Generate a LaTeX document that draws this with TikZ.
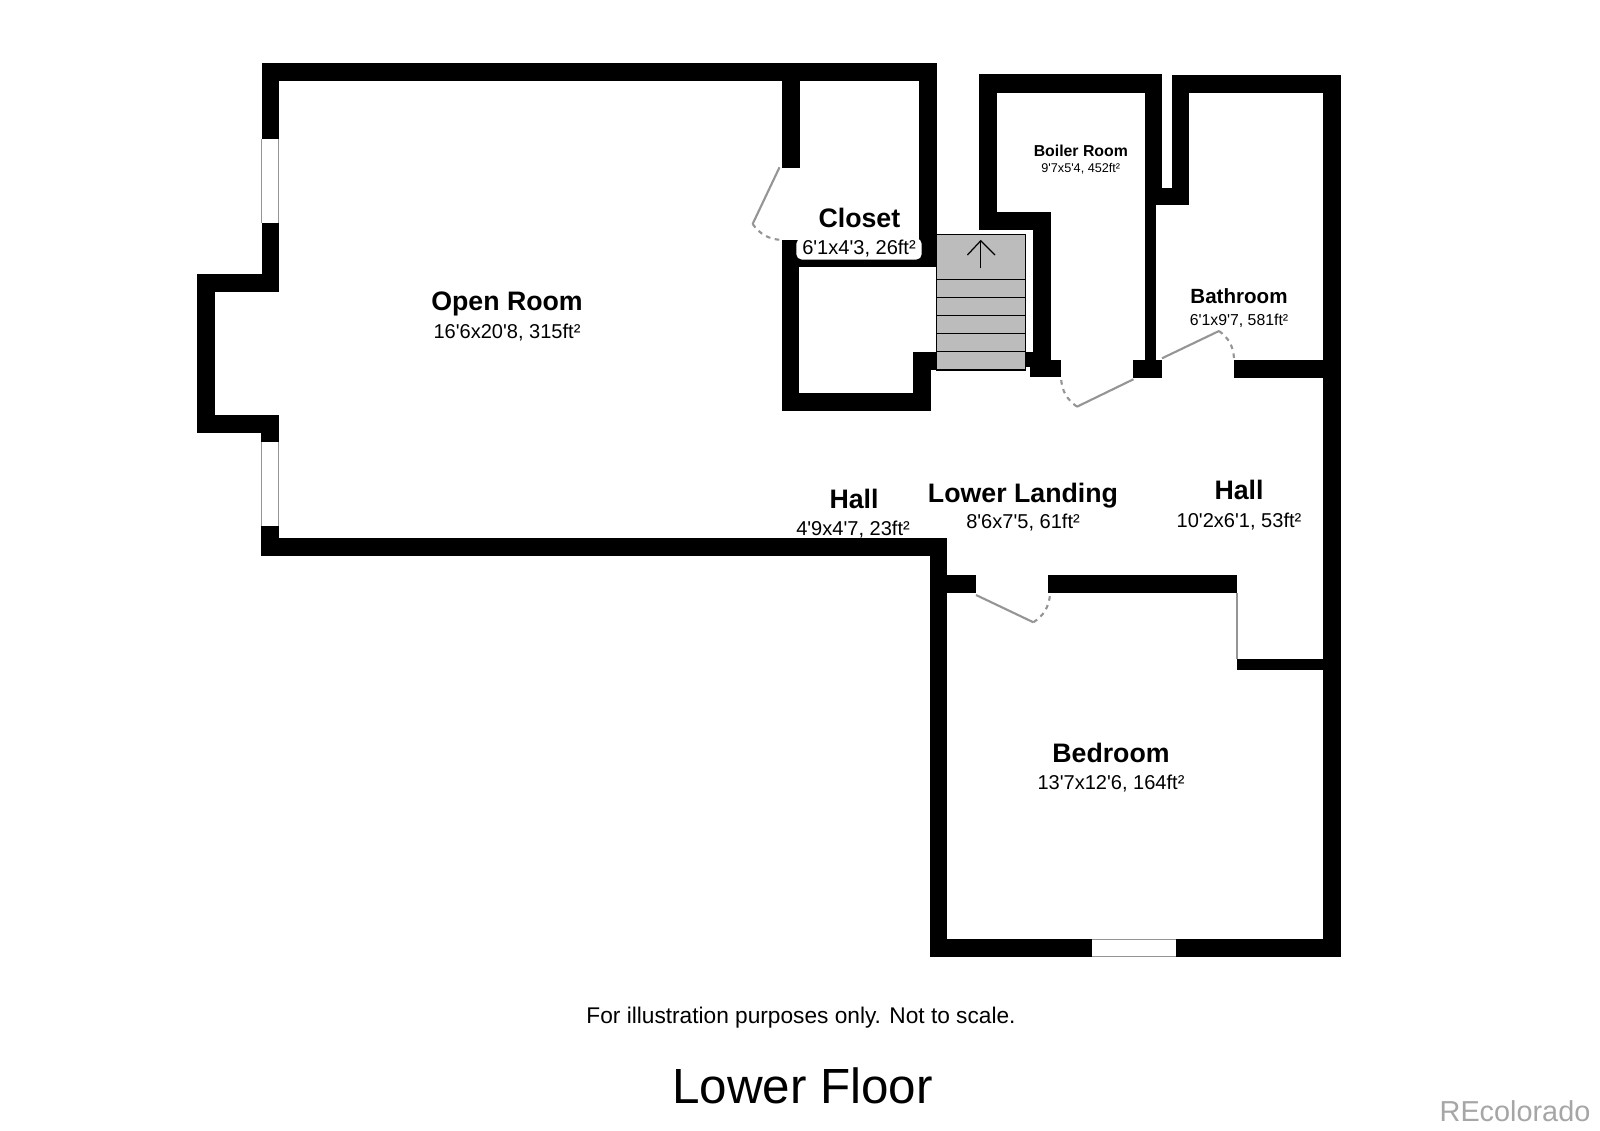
\documentclass[tikz,border=0pt]{standalone}
\usepackage{fontspec}
\setmainfont{Liberation Sans}[Ligatures=TeXOff]
\usetikzlibrary{positioning}
\definecolor{stairgray}{HTML}{BCBCBC}
\definecolor{doorgray}{HTML}{959595}
\tikzset{
  wall/.style={fill=black},
  roomname/.style={anchor=base,font=\bfseries\fontsize{7.6}{9}\selectfont},
  roomsize/.style={anchor=base,font=\fontsize{5.7}{7}\selectfont},
  door/.style={draw=doorgray,line width=0.6pt},
  swing/.style={draw=doorgray,line width=0.6pt,dash pattern=on 1.3pt off 1.3pt},
  pane/.style={draw=doorgray,line width=0.3pt}
}
\begin{document}
\begin{tikzpicture}[x=0.01cm,y=-0.01cm]
                    \tikzstyle{every node}+=[inner sep=0pt]
                    \fill [white] (0,0) rectangle (1600,1131);
                    \useasboundingbox (0,0) rectangle (1600,1131);
                    \fill [wall] (261.5,63.4) rectangle (936.5,81.5);
                    \fill [wall] (261.5,63.4) rectangle (278.7,139.2);
                    \draw [pane] (261.5,139.2) -- (261.5,223);
                    \draw [pane] (278.7,139.2) -- (278.7,223);
                    \fill [wall] (261.5,223) rectangle (278.7,292);
                    \fill [wall] (197,274.2) rectangle (278.7,292);
                    \fill [wall] (197,274.2) rectangle (215,432.6);
                    \fill [wall] (197,415.3) rectangle (278.7,432.6);
                    \fill [wall] (261,415.3) rectangle (278.7,442.2);
                    \draw [pane] (261.5,442.2) -- (261.5,526.2);
                    \draw [pane] (278.7,442.2) -- (278.7,526.2);
                    \fill [wall] (261,526.2) rectangle (278.7,555.8);
                    \fill [wall] (261,538.5) rectangle (946.5,555.8);
                    \fill [wall] (781.5,81) rectangle (800,168);
                    \fill [wall] (919,64) rectangle (936.5,267.3);
                    \fill [wall] (781.5,240) rectangle (799,411);
                    \fill [wall] (781.5,250) rectangle (936.5,267.3);
                    \fill [wall] (781.5,392.7) rectangle (930.6,411);
                    \fill [wall] (912.8,352.3) rectangle (930.6,411);
                    \fill [wall] (912.8,352.3) rectangle (936.5,370);
                    \draw [black, line width=0.3pt, fill=stairgray] (936.5,234.3) rectangle (1025.5,370);
                    \foreach \stepy in {279.3,297.3,315.3,333.3,351.7}
                        \draw [black, line width=0.4pt] (936.5,\stepy) -- (1025.5,\stepy);
                    \draw [black, line width=0.35pt] (980.8,268.3) -- (980.8,240.7);
                    \draw [black, line width=0.35pt] (967.4,255) -- (980.8,240.7) -- (995,255);
                    \fill [wall] (978.8,74.3) rectangle (1162,92.7);
                    \fill [wall] (978.8,74.3) rectangle (997,230.3);
                    \fill [wall] (978.8,211.7) rectangle (1051,230.3);
                    \fill [wall] (1032.6,211.7) rectangle (1051,377.3);
                    \fill [wall] (1029.8,360) rectangle (1061,377.3);
                    \fill [wall] (1025.5,351.7) rectangle (1032.6,367);
                    \fill [wall] (1144.5,74.3) rectangle (1162,205);
                    \fill [wall] (1144.5,92) rectangle (1156,377);
                    \fill [wall] (1133,360) rectangle (1162,377.7);
                    \fill [wall] (1144.5,187.7) rectangle (1189,205);
                    \fill [wall] (1172,75) rectangle (1189,205);
                    \fill [wall] (1172,75) rectangle (1340.5,92.7);
                    \fill [wall] (1322.5,75) rectangle (1340.5,957.3);
                    \fill [wall] (1234,360) rectangle (1322.5,377.7);
                    \fill [wall] (929.5,538.7) rectangle (946.5,957.3);
                    \fill [wall] (946.5,575) rectangle (976,593.3);
                    \fill [wall] (1048,575) rectangle (1237,593.3);
                    \fill [wall] (1237,659) rectangle (1322.7,670);
                    \fill [wall] (929.5,939.3) rectangle (1091.8,957.3);
                    \fill [wall] (1176,939.3) rectangle (1340.5,957.3);
                    \draw [pane] (1091.8,939.3) -- (1176,939.3);
                    \draw [pane] (1091.8,956.8) -- (1176,956.8);
                    \draw [pane] (1237,593.3) -- (1237,659);
                    \draw [door] (779.5,167.3) -- (752.6,224);
                    \draw [swing] (752.6,224) to [bend right=25] (781.5,240);
                    \draw [door] (1133.4,379.3) -- (1077,406.7);
                    \draw [swing] (1077,406.7) to [bend left=25] (1061,378.3);
                    \draw [door] (1162,358.3) -- (1219,331);
                    \draw [swing] (1219,331) to [bend left=25] (1234,358.3);
                    \draw [door] (976,595) -- (1033.4,622.3);
                    \draw [swing] (1033.4,622.3) to [bend right=25] (1050,595);
                    \node [roomname] (openroom) at (507,311) {Open Room};
                    \node [roomsize] (openroomsize) at (507,338.7) {16'6x20'8, 315ft²};
                    \node [roomname] (closet) at (859.4,227.5) {Closet};
                    \node [font=\fontsize{5.7}{7}\selectfont, fill=white, rounded corners=1.6pt, inner xsep=1.7pt, inner ysep=0.6pt] (closetsize) at (859,249) {6'1x4'3, 26ft²};
                    \node [roomname, font=\bfseries\fontsize{4.5}{6}\selectfont] (boiler) at (1080.8,156.7) {Boiler Room};
                    \node [roomsize, font=\fontsize{3.6}{5}\selectfont] (boilersize) at (1080.8,172.8) {9'7x5'4, 452ft²};
                    \node [roomname, font=\bfseries\fontsize{5.85}{7}\selectfont] (bathroom) at (1239,304) {Bathroom};
                    \node [roomsize, font=\fontsize{4.5}{6}\selectfont] (bathroomsize) at (1239,325.5) {6'1x9'7, 581ft²};
                    \node [roomname] (hallwest) at (854,508.8) {Hall};
                    \node [roomsize] (hallwestsize) at (853,535.3) {4'9x4'7, 23ft²};
                    \node [roomname] (landing) at (1023,502.5) {Lower Landing};
                    \node [roomsize] (landingsize) at (1023,528.7) {8'6x7'5, 61ft²};
                    \node [roomname] (halleast) at (1239,500) {Hall};
                    \node [roomsize] (halleastsize) at (1239,527.7) {10'2x6'1, 53ft²};
                    \node [roomname] (bedroom) at (1111,762) {Bedroom};
                    \node [roomsize] (bedroomsize) at (1111,789.5) {13'7x12'6, 164ft²};
                    \node [anchor=base, font=\fontsize{6.45}{8}\selectfont] (disclaimer) at (801,1023.3) {For illustration purposes only. Not to scale.};
                    \node [anchor=base, font=\fontsize{14.05}{16}\selectfont] (floorname) at (802.5,1103.3) {Lower Floor};
                    \node [anchor=base, text=gray!70, font=\fontsize{8.2}{10}\selectfont] (brand) at (1515,1121.7) {REcolorado};
                \end{tikzpicture}
\end{document}
